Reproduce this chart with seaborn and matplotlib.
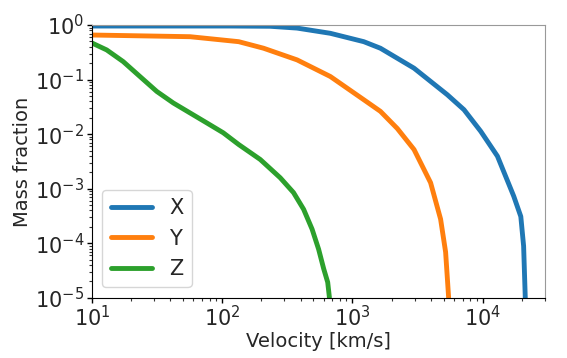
import numpy as np
import pandas as pd
import matplotlib
matplotlib.use('Agg')
import matplotlib.pyplot as plt
from matplotlib.ticker import LogLocator, NullFormatter
import seaborn as sns

# Velocity [km/s] and mass fraction
vel_x = [10, 115, 234, 376, 677, 1222, 1640, 2970, 5350, 7180, 9650, 12970,
         17300, 19600, 20600, 21200, 21250]
mass_x = [0.96, 0.96, 0.95, 0.88, 0.706, 0.496, 0.376, 0.162, 0.0528, 0.0281,
          0.0113, 0.00395, 7.3e-4, 3.1e-4, 8.9e-5, 1.04e-5, 1e-6]

vel_y = [10, 56.7, 134, 208, 376, 677, 1222, 1640, 2210, 2970, 3980, 4750, 5190,
         5470, 5480]
mass_y = [0.657, 0.612, 0.496, 0.376, 0.230, 0.114, 0.0428, 0.0262, 0.0127,
          0.00523, 0.00129, 2.77e-4, 6.9e-5, 1.04e-5, 1e-6]

vel_z = [10, 13.0, 17.4, 23.4, 31.5, 42.2, 56.7, 76.2, 102, 134, 196, 279, 353,
         422, 490, 550, 602, 646, 665, 666]
mass_z = [0.47, 0.350, 0.214, 0.114, 0.0607, 0.0373, 0.0245, 0.0161, 0.0106,
          0.00646, 0.00344, 0.00159, 8.5e-4, 4.2e-4, 1.82e-4, 7.8e-5, 3.4e-5,
          1.93e-5, 1.04e-5, 1e-6]

names = ['X', 'Y', 'Z']

frames = []
for name, v, m in zip(names, [vel_x, vel_y, vel_z], [mass_x, mass_y, mass_z]):
    frames.append(pd.DataFrame({'v': v, 'm': m, 'element': name}))
df = pd.concat(frames, ignore_index=True)

sns.set_style('ticks')
fig = plt.figure(figsize=(5.67, 3.58), dpi=100)
ax = fig.add_axes([0.162, 0.168, 0.799, 0.762])

sns.lineplot(data=df, x='v', y='m', hue='element', palette='tab10',
             sort=False, estimator=None, linewidth=3.5, ax=ax)

ax.set_xscale('log')
ax.set_yscale('log')
ax.set_xlim(10, 3e4)
ax.set_ylim(1e-5, 1)
for axis in [ax.xaxis, ax.yaxis]:
    axis.set_minor_locator(LogLocator(base=10, subs=np.arange(2, 10), numticks=20))
    axis.set_minor_formatter(NullFormatter())
ax.set_xlabel('Velocity [km/s]', fontsize=14, labelpad=1)
ax.set_ylabel('Mass fraction', fontsize=14, labelpad=2)
ax.tick_params(axis='both', which='major', labelsize=15, direction='out',
               length=3.5, width=1.0, color='black', pad=2)
ax.tick_params(axis='both', which='minor', direction='out', length=2,
               width=0.8, color='#333333')

for side in ['top', 'right']:
    ax.spines[side].set_color('#999999')
for side in ['left', 'bottom']:
    ax.spines[side].set_color('black')

handles, labels = ax.get_legend_handles_labels()
leg = ax.legend(handles, labels, loc='lower left', fontsize=15, frameon=True)
for line in leg.get_lines():
    line.set_linewidth(3.5)

plt.savefig('out.png', dpi=100)
